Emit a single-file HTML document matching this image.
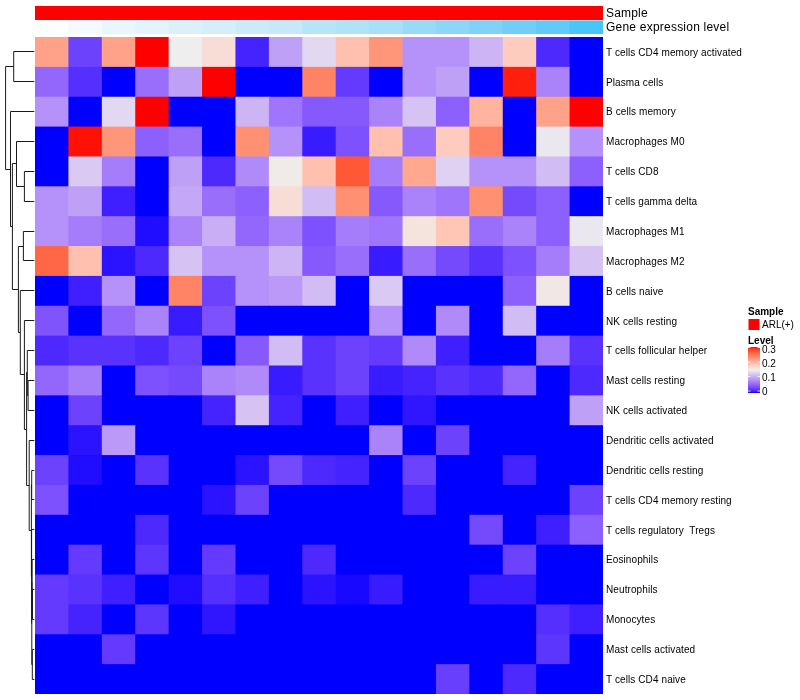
<!DOCTYPE html>
<html><head><meta charset="utf-8"><style>
html,body{margin:0;padding:0;background:#fff;width:800px;height:700px;overflow:hidden}
svg{position:absolute;left:0;top:0;will-change:transform}
text{font-family:"Liberation Sans",sans-serif;fill:#000}
</style></head><body>
<svg width="800" height="700" viewBox="0 0 800 700">
<defs><linearGradient id="lg" x1="0" y1="1" x2="0" y2="0">
<stop offset="0.0000" stop-color="#0000FF"/>
<stop offset="0.0333" stop-color="#3F1FFF"/>
<stop offset="0.0667" stop-color="#5932FE"/>
<stop offset="0.1000" stop-color="#6D42FD"/>
<stop offset="0.1333" stop-color="#7D51FD"/>
<stop offset="0.1667" stop-color="#8C60FC"/>
<stop offset="0.2000" stop-color="#996EFB"/>
<stop offset="0.2333" stop-color="#A57CFA"/>
<stop offset="0.2667" stop-color="#B08AF9"/>
<stop offset="0.3000" stop-color="#BA99F8"/>
<stop offset="0.3333" stop-color="#C4A7F7"/>
<stop offset="0.3667" stop-color="#CDB5F5"/>
<stop offset="0.4000" stop-color="#D6C3F4"/>
<stop offset="0.4333" stop-color="#DED1F2"/>
<stop offset="0.4667" stop-color="#E6E0F0"/>
<stop offset="0.5000" stop-color="#EEEEEE"/>
<stop offset="0.5333" stop-color="#F5E3DE"/>
<stop offset="0.5667" stop-color="#FAD7CE"/>
<stop offset="0.6000" stop-color="#FECCBE"/>
<stop offset="0.6333" stop-color="#FFC0AF"/>
<stop offset="0.6667" stop-color="#FFB49F"/>
<stop offset="0.7000" stop-color="#FFA890"/>
<stop offset="0.7333" stop-color="#FF9C81"/>
<stop offset="0.7667" stop-color="#FF9072"/>
<stop offset="0.8000" stop-color="#FF8364"/>
<stop offset="0.8333" stop-color="#FF7555"/>
<stop offset="0.8667" stop-color="#FF6746"/>
<stop offset="0.9000" stop-color="#FF5837"/>
<stop offset="0.9333" stop-color="#FF4628"/>
<stop offset="0.9667" stop-color="#FF2F17"/>
<stop offset="1.0000" stop-color="#FF0000"/>
</linearGradient></defs>
<rect x="35.00" y="6" width="568.00" height="14" fill="#FF0000"/>
<rect x="35.00" y="20.5" width="34.41" height="13.5" fill="#FEFEFE"/>
<rect x="68.41" y="20.5" width="34.41" height="13.5" fill="#F4FAFF"/>
<rect x="101.82" y="20.5" width="34.41" height="13.5" fill="#EAF6FE"/>
<rect x="135.24" y="20.5" width="34.41" height="13.5" fill="#E4F4FE"/>
<rect x="168.65" y="20.5" width="34.41" height="13.5" fill="#DCF0FC"/>
<rect x="202.06" y="20.5" width="34.41" height="13.5" fill="#D6EEFC"/>
<rect x="235.47" y="20.5" width="34.41" height="13.5" fill="#CCEAFA"/>
<rect x="268.88" y="20.5" width="34.41" height="13.5" fill="#C6E8FA"/>
<rect x="302.29" y="20.5" width="34.41" height="13.5" fill="#B8E4FA"/>
<rect x="335.71" y="20.5" width="34.41" height="13.5" fill="#B0E2F9"/>
<rect x="369.12" y="20.5" width="34.41" height="13.5" fill="#A8E0F9"/>
<rect x="402.53" y="20.5" width="34.41" height="13.5" fill="#98DAF8"/>
<rect x="435.94" y="20.5" width="34.41" height="13.5" fill="#8CD6F8"/>
<rect x="469.35" y="20.5" width="34.41" height="13.5" fill="#80D2F8"/>
<rect x="502.76" y="20.5" width="34.41" height="13.5" fill="#70CEF8"/>
<rect x="536.18" y="20.5" width="34.41" height="13.5" fill="#60CAF8"/>
<rect x="569.59" y="20.5" width="33.41" height="13.5" fill="#48C6F8"/>
<rect x="35.00" y="37.00" width="34.41" height="30.86" fill="#FFA289"/>
<rect x="68.41" y="37.00" width="34.41" height="30.86" fill="#6D42FD"/>
<rect x="101.82" y="37.00" width="34.41" height="30.86" fill="#FFA289"/>
<rect x="135.24" y="37.00" width="34.41" height="30.86" fill="#FF0000"/>
<rect x="168.65" y="37.00" width="34.41" height="30.86" fill="#EEEEEE"/>
<rect x="202.06" y="37.00" width="34.41" height="30.86" fill="#F7DDD6"/>
<rect x="235.47" y="37.00" width="34.41" height="30.86" fill="#4523FE"/>
<rect x="268.88" y="37.00" width="34.41" height="30.86" fill="#BFA0F7"/>
<rect x="302.29" y="37.00" width="34.41" height="30.86" fill="#E2D8F1"/>
<rect x="335.71" y="37.00" width="34.41" height="30.86" fill="#FFC0AF"/>
<rect x="369.12" y="37.00" width="34.41" height="30.86" fill="#FF967A"/>
<rect x="402.53" y="37.00" width="34.41" height="30.86" fill="#B592F9"/>
<rect x="435.94" y="37.00" width="34.41" height="30.86" fill="#B592F9"/>
<rect x="469.35" y="37.00" width="34.41" height="30.86" fill="#CDB5F5"/>
<rect x="502.76" y="37.00" width="34.41" height="30.86" fill="#FECCBE"/>
<rect x="536.18" y="37.00" width="34.41" height="30.86" fill="#4D29FE"/>
<rect x="569.59" y="37.00" width="33.41" height="30.86" fill="#0000FF"/>
<rect x="35.00" y="66.86" width="34.41" height="30.86" fill="#9367FC"/>
<rect x="68.41" y="66.86" width="34.41" height="30.86" fill="#552FFE"/>
<rect x="101.82" y="66.86" width="34.41" height="30.86" fill="#0000FF"/>
<rect x="135.24" y="66.86" width="34.41" height="30.86" fill="#996EFB"/>
<rect x="168.65" y="66.86" width="34.41" height="30.86" fill="#BFA0F7"/>
<rect x="202.06" y="66.86" width="34.41" height="30.86" fill="#FF0000"/>
<rect x="235.47" y="66.86" width="34.41" height="30.86" fill="#0000FF"/>
<rect x="268.88" y="66.86" width="34.41" height="30.86" fill="#0000FF"/>
<rect x="302.29" y="66.86" width="34.41" height="30.86" fill="#FF8364"/>
<rect x="335.71" y="66.86" width="34.41" height="30.86" fill="#643AFE"/>
<rect x="369.12" y="66.86" width="34.41" height="30.86" fill="#0000FF"/>
<rect x="402.53" y="66.86" width="34.41" height="30.86" fill="#B592F9"/>
<rect x="435.94" y="66.86" width="34.41" height="30.86" fill="#BFA0F7"/>
<rect x="469.35" y="66.86" width="34.41" height="30.86" fill="#0000FF"/>
<rect x="502.76" y="66.86" width="34.41" height="30.86" fill="#FF1F0D"/>
<rect x="536.18" y="66.86" width="34.41" height="30.86" fill="#AA83FA"/>
<rect x="569.59" y="66.86" width="33.41" height="30.86" fill="#0000FF"/>
<rect x="35.00" y="96.73" width="34.41" height="30.86" fill="#B592F9"/>
<rect x="68.41" y="96.73" width="34.41" height="30.86" fill="#0000FF"/>
<rect x="101.82" y="96.73" width="34.41" height="30.86" fill="#E2D8F1"/>
<rect x="135.24" y="96.73" width="34.41" height="30.86" fill="#FF0000"/>
<rect x="168.65" y="96.73" width="34.41" height="30.86" fill="#0000FF"/>
<rect x="202.06" y="96.73" width="34.41" height="30.86" fill="#0000FF"/>
<rect x="235.47" y="96.73" width="34.41" height="30.86" fill="#CDB5F5"/>
<rect x="268.88" y="96.73" width="34.41" height="30.86" fill="#9F75FB"/>
<rect x="302.29" y="96.73" width="34.41" height="30.86" fill="#8559FC"/>
<rect x="335.71" y="96.73" width="34.41" height="30.86" fill="#8559FC"/>
<rect x="369.12" y="96.73" width="34.41" height="30.86" fill="#AA83FA"/>
<rect x="402.53" y="96.73" width="34.41" height="30.86" fill="#D6C3F4"/>
<rect x="435.94" y="96.73" width="34.41" height="30.86" fill="#8C60FC"/>
<rect x="469.35" y="96.73" width="34.41" height="30.86" fill="#FFB49F"/>
<rect x="502.76" y="96.73" width="34.41" height="30.86" fill="#0000FF"/>
<rect x="536.18" y="96.73" width="34.41" height="30.86" fill="#FFA289"/>
<rect x="569.59" y="96.73" width="33.41" height="30.86" fill="#FF0000"/>
<rect x="35.00" y="126.59" width="34.41" height="30.86" fill="#0000FF"/>
<rect x="68.41" y="126.59" width="34.41" height="30.86" fill="#FF1105"/>
<rect x="101.82" y="126.59" width="34.41" height="30.86" fill="#FF967A"/>
<rect x="135.24" y="126.59" width="34.41" height="30.86" fill="#8C60FC"/>
<rect x="168.65" y="126.59" width="34.41" height="30.86" fill="#996EFB"/>
<rect x="202.06" y="126.59" width="34.41" height="30.86" fill="#0000FF"/>
<rect x="235.47" y="126.59" width="34.41" height="30.86" fill="#FF9072"/>
<rect x="268.88" y="126.59" width="34.41" height="30.86" fill="#B592F9"/>
<rect x="302.29" y="126.59" width="34.41" height="30.86" fill="#381BFF"/>
<rect x="335.71" y="126.59" width="34.41" height="30.86" fill="#7D51FD"/>
<rect x="369.12" y="126.59" width="34.41" height="30.86" fill="#FFC0AF"/>
<rect x="402.53" y="126.59" width="34.41" height="30.86" fill="#996EFB"/>
<rect x="435.94" y="126.59" width="34.41" height="30.86" fill="#FECCBE"/>
<rect x="469.35" y="126.59" width="34.41" height="30.86" fill="#FF8364"/>
<rect x="502.76" y="126.59" width="34.41" height="30.86" fill="#0000FF"/>
<rect x="536.18" y="126.59" width="34.41" height="30.86" fill="#EAE7EF"/>
<rect x="569.59" y="126.59" width="33.41" height="30.86" fill="#B592F9"/>
<rect x="35.00" y="156.45" width="34.41" height="30.86" fill="#0000FF"/>
<rect x="68.41" y="156.45" width="34.41" height="30.86" fill="#DACAF3"/>
<rect x="101.82" y="156.45" width="34.41" height="30.86" fill="#A57CFA"/>
<rect x="135.24" y="156.45" width="34.41" height="30.86" fill="#0000FF"/>
<rect x="168.65" y="156.45" width="34.41" height="30.86" fill="#BFA0F7"/>
<rect x="202.06" y="156.45" width="34.41" height="30.86" fill="#4D29FE"/>
<rect x="235.47" y="156.45" width="34.41" height="30.86" fill="#B08AF9"/>
<rect x="268.88" y="156.45" width="34.41" height="30.86" fill="#F0EBE9"/>
<rect x="302.29" y="156.45" width="34.41" height="30.86" fill="#FFC0AF"/>
<rect x="335.71" y="156.45" width="34.41" height="30.86" fill="#FF5837"/>
<rect x="369.12" y="156.45" width="34.41" height="30.86" fill="#A57CFA"/>
<rect x="402.53" y="156.45" width="34.41" height="30.86" fill="#FFA890"/>
<rect x="435.94" y="156.45" width="34.41" height="30.86" fill="#DED1F2"/>
<rect x="469.35" y="156.45" width="34.41" height="30.86" fill="#B592F9"/>
<rect x="502.76" y="156.45" width="34.41" height="30.86" fill="#B592F9"/>
<rect x="536.18" y="156.45" width="34.41" height="30.86" fill="#D2BCF4"/>
<rect x="569.59" y="156.45" width="33.41" height="30.86" fill="#8C60FC"/>
<rect x="35.00" y="186.32" width="34.41" height="30.86" fill="#B592F9"/>
<rect x="68.41" y="186.32" width="34.41" height="30.86" fill="#BFA0F7"/>
<rect x="101.82" y="186.32" width="34.41" height="30.86" fill="#3F1FFF"/>
<rect x="135.24" y="186.32" width="34.41" height="30.86" fill="#0000FF"/>
<rect x="168.65" y="186.32" width="34.41" height="30.86" fill="#C4A7F7"/>
<rect x="202.06" y="186.32" width="34.41" height="30.86" fill="#996EFB"/>
<rect x="235.47" y="186.32" width="34.41" height="30.86" fill="#8C60FC"/>
<rect x="268.88" y="186.32" width="34.41" height="30.86" fill="#F7DDD6"/>
<rect x="302.29" y="186.32" width="34.41" height="30.86" fill="#D2BCF4"/>
<rect x="335.71" y="186.32" width="34.41" height="30.86" fill="#FF9072"/>
<rect x="369.12" y="186.32" width="34.41" height="30.86" fill="#8559FC"/>
<rect x="402.53" y="186.32" width="34.41" height="30.86" fill="#AA83FA"/>
<rect x="435.94" y="186.32" width="34.41" height="30.86" fill="#9F75FB"/>
<rect x="469.35" y="186.32" width="34.41" height="30.86" fill="#FF9072"/>
<rect x="502.76" y="186.32" width="34.41" height="30.86" fill="#754AFD"/>
<rect x="536.18" y="186.32" width="34.41" height="30.86" fill="#8C60FC"/>
<rect x="569.59" y="186.32" width="33.41" height="30.86" fill="#0000FF"/>
<rect x="35.00" y="216.18" width="34.41" height="30.86" fill="#B592F9"/>
<rect x="68.41" y="216.18" width="34.41" height="30.86" fill="#A57CFA"/>
<rect x="101.82" y="216.18" width="34.41" height="30.86" fill="#996EFB"/>
<rect x="135.24" y="216.18" width="34.41" height="30.86" fill="#200CFF"/>
<rect x="168.65" y="216.18" width="34.41" height="30.86" fill="#AA83FA"/>
<rect x="202.06" y="216.18" width="34.41" height="30.86" fill="#C9AEF6"/>
<rect x="235.47" y="216.18" width="34.41" height="30.86" fill="#9367FC"/>
<rect x="268.88" y="216.18" width="34.41" height="30.86" fill="#AA83FA"/>
<rect x="302.29" y="216.18" width="34.41" height="30.86" fill="#7D51FD"/>
<rect x="335.71" y="216.18" width="34.41" height="30.86" fill="#A57CFA"/>
<rect x="369.12" y="216.18" width="34.41" height="30.86" fill="#9F75FB"/>
<rect x="402.53" y="216.18" width="34.41" height="30.86" fill="#F5E3DE"/>
<rect x="435.94" y="216.18" width="34.41" height="30.86" fill="#FFC6B6"/>
<rect x="469.35" y="216.18" width="34.41" height="30.86" fill="#996EFB"/>
<rect x="502.76" y="216.18" width="34.41" height="30.86" fill="#AA83FA"/>
<rect x="536.18" y="216.18" width="34.41" height="30.86" fill="#8C60FC"/>
<rect x="569.59" y="216.18" width="33.41" height="30.86" fill="#EAE7EF"/>
<rect x="35.00" y="246.05" width="34.41" height="30.86" fill="#FF6746"/>
<rect x="68.41" y="246.05" width="34.41" height="30.86" fill="#FFC0AF"/>
<rect x="101.82" y="246.05" width="34.41" height="30.86" fill="#2B13FF"/>
<rect x="135.24" y="246.05" width="34.41" height="30.86" fill="#4D29FE"/>
<rect x="168.65" y="246.05" width="34.41" height="30.86" fill="#D6C3F4"/>
<rect x="202.06" y="246.05" width="34.41" height="30.86" fill="#B592F9"/>
<rect x="235.47" y="246.05" width="34.41" height="30.86" fill="#B592F9"/>
<rect x="268.88" y="246.05" width="34.41" height="30.86" fill="#CDB5F5"/>
<rect x="302.29" y="246.05" width="34.41" height="30.86" fill="#8559FC"/>
<rect x="335.71" y="246.05" width="34.41" height="30.86" fill="#996EFB"/>
<rect x="369.12" y="246.05" width="34.41" height="30.86" fill="#381BFF"/>
<rect x="402.53" y="246.05" width="34.41" height="30.86" fill="#996EFB"/>
<rect x="435.94" y="246.05" width="34.41" height="30.86" fill="#754AFD"/>
<rect x="469.35" y="246.05" width="34.41" height="30.86" fill="#5932FE"/>
<rect x="502.76" y="246.05" width="34.41" height="30.86" fill="#7D51FD"/>
<rect x="536.18" y="246.05" width="34.41" height="30.86" fill="#A57CFA"/>
<rect x="569.59" y="246.05" width="33.41" height="30.86" fill="#D6C3F4"/>
<rect x="35.00" y="275.91" width="34.41" height="30.86" fill="#0000FF"/>
<rect x="68.41" y="275.91" width="34.41" height="30.86" fill="#3F1FFF"/>
<rect x="101.82" y="275.91" width="34.41" height="30.86" fill="#B592F9"/>
<rect x="135.24" y="275.91" width="34.41" height="30.86" fill="#0000FF"/>
<rect x="168.65" y="275.91" width="34.41" height="30.86" fill="#FF8364"/>
<rect x="202.06" y="275.91" width="34.41" height="30.86" fill="#6D42FD"/>
<rect x="235.47" y="275.91" width="34.41" height="30.86" fill="#B592F9"/>
<rect x="268.88" y="275.91" width="34.41" height="30.86" fill="#BA99F8"/>
<rect x="302.29" y="275.91" width="34.41" height="30.86" fill="#D2BCF4"/>
<rect x="335.71" y="275.91" width="34.41" height="30.86" fill="#0000FF"/>
<rect x="369.12" y="275.91" width="34.41" height="30.86" fill="#DACAF3"/>
<rect x="402.53" y="275.91" width="34.41" height="30.86" fill="#0000FF"/>
<rect x="435.94" y="275.91" width="34.41" height="30.86" fill="#0000FF"/>
<rect x="469.35" y="275.91" width="34.41" height="30.86" fill="#0000FF"/>
<rect x="502.76" y="275.91" width="34.41" height="30.86" fill="#8C60FC"/>
<rect x="536.18" y="275.91" width="34.41" height="30.86" fill="#F1E8E6"/>
<rect x="569.59" y="275.91" width="33.41" height="30.86" fill="#0000FF"/>
<rect x="35.00" y="305.77" width="34.41" height="30.86" fill="#8054FD"/>
<rect x="68.41" y="305.77" width="34.41" height="30.86" fill="#0000FF"/>
<rect x="101.82" y="305.77" width="34.41" height="30.86" fill="#9367FC"/>
<rect x="135.24" y="305.77" width="34.41" height="30.86" fill="#AA83FA"/>
<rect x="168.65" y="305.77" width="34.41" height="30.86" fill="#381BFF"/>
<rect x="202.06" y="305.77" width="34.41" height="30.86" fill="#7D51FD"/>
<rect x="235.47" y="305.77" width="34.41" height="30.86" fill="#0000FF"/>
<rect x="268.88" y="305.77" width="34.41" height="30.86" fill="#0000FF"/>
<rect x="302.29" y="305.77" width="34.41" height="30.86" fill="#0000FF"/>
<rect x="335.71" y="305.77" width="34.41" height="30.86" fill="#0000FF"/>
<rect x="369.12" y="305.77" width="34.41" height="30.86" fill="#B592F9"/>
<rect x="402.53" y="305.77" width="34.41" height="30.86" fill="#0000FF"/>
<rect x="435.94" y="305.77" width="34.41" height="30.86" fill="#B08AF9"/>
<rect x="469.35" y="305.77" width="34.41" height="30.86" fill="#0000FF"/>
<rect x="502.76" y="305.77" width="34.41" height="30.86" fill="#D2BCF4"/>
<rect x="536.18" y="305.77" width="34.41" height="30.86" fill="#0000FF"/>
<rect x="569.59" y="305.77" width="33.41" height="30.86" fill="#0000FF"/>
<rect x="35.00" y="335.64" width="34.41" height="30.86" fill="#4D29FE"/>
<rect x="68.41" y="335.64" width="34.41" height="30.86" fill="#5932FE"/>
<rect x="101.82" y="335.64" width="34.41" height="30.86" fill="#5932FE"/>
<rect x="135.24" y="335.64" width="34.41" height="30.86" fill="#4D29FE"/>
<rect x="168.65" y="335.64" width="34.41" height="30.86" fill="#6D42FD"/>
<rect x="202.06" y="335.64" width="34.41" height="30.86" fill="#0000FF"/>
<rect x="235.47" y="335.64" width="34.41" height="30.86" fill="#8559FC"/>
<rect x="268.88" y="335.64" width="34.41" height="30.86" fill="#D2BCF4"/>
<rect x="302.29" y="335.64" width="34.41" height="30.86" fill="#5932FE"/>
<rect x="335.71" y="335.64" width="34.41" height="30.86" fill="#6D42FD"/>
<rect x="369.12" y="335.64" width="34.41" height="30.86" fill="#643AFE"/>
<rect x="402.53" y="335.64" width="34.41" height="30.86" fill="#B08AF9"/>
<rect x="435.94" y="335.64" width="34.41" height="30.86" fill="#3F1FFF"/>
<rect x="469.35" y="335.64" width="34.41" height="30.86" fill="#0000FF"/>
<rect x="502.76" y="335.64" width="34.41" height="30.86" fill="#0000FF"/>
<rect x="536.18" y="335.64" width="34.41" height="30.86" fill="#A57CFA"/>
<rect x="569.59" y="335.64" width="33.41" height="30.86" fill="#5932FE"/>
<rect x="35.00" y="365.50" width="34.41" height="30.86" fill="#9367FC"/>
<rect x="68.41" y="365.50" width="34.41" height="30.86" fill="#A57CFA"/>
<rect x="101.82" y="365.50" width="34.41" height="30.86" fill="#0000FF"/>
<rect x="135.24" y="365.50" width="34.41" height="30.86" fill="#7D51FD"/>
<rect x="168.65" y="365.50" width="34.41" height="30.86" fill="#754AFD"/>
<rect x="202.06" y="365.50" width="34.41" height="30.86" fill="#AA83FA"/>
<rect x="235.47" y="365.50" width="34.41" height="30.86" fill="#B08AF9"/>
<rect x="268.88" y="365.50" width="34.41" height="30.86" fill="#381BFF"/>
<rect x="302.29" y="365.50" width="34.41" height="30.86" fill="#5932FE"/>
<rect x="335.71" y="365.50" width="34.41" height="30.86" fill="#6D42FD"/>
<rect x="369.12" y="365.50" width="34.41" height="30.86" fill="#381BFF"/>
<rect x="402.53" y="365.50" width="34.41" height="30.86" fill="#4523FE"/>
<rect x="435.94" y="365.50" width="34.41" height="30.86" fill="#5932FE"/>
<rect x="469.35" y="365.50" width="34.41" height="30.86" fill="#4D29FE"/>
<rect x="502.76" y="365.50" width="34.41" height="30.86" fill="#9367FC"/>
<rect x="536.18" y="365.50" width="34.41" height="30.86" fill="#0000FF"/>
<rect x="569.59" y="365.50" width="33.41" height="30.86" fill="#4D29FE"/>
<rect x="35.00" y="395.36" width="34.41" height="30.86" fill="#0000FF"/>
<rect x="68.41" y="395.36" width="34.41" height="30.86" fill="#6D42FD"/>
<rect x="101.82" y="395.36" width="34.41" height="30.86" fill="#0000FF"/>
<rect x="135.24" y="395.36" width="34.41" height="30.86" fill="#0000FF"/>
<rect x="168.65" y="395.36" width="34.41" height="30.86" fill="#0000FF"/>
<rect x="202.06" y="395.36" width="34.41" height="30.86" fill="#4523FE"/>
<rect x="235.47" y="395.36" width="34.41" height="30.86" fill="#D6C3F4"/>
<rect x="268.88" y="395.36" width="34.41" height="30.86" fill="#4523FE"/>
<rect x="302.29" y="395.36" width="34.41" height="30.86" fill="#0000FF"/>
<rect x="335.71" y="395.36" width="34.41" height="30.86" fill="#3F1FFF"/>
<rect x="369.12" y="395.36" width="34.41" height="30.86" fill="#0000FF"/>
<rect x="402.53" y="395.36" width="34.41" height="30.86" fill="#3016FF"/>
<rect x="435.94" y="395.36" width="34.41" height="30.86" fill="#0000FF"/>
<rect x="469.35" y="395.36" width="34.41" height="30.86" fill="#0000FF"/>
<rect x="502.76" y="395.36" width="34.41" height="30.86" fill="#0000FF"/>
<rect x="536.18" y="395.36" width="34.41" height="30.86" fill="#0000FF"/>
<rect x="569.59" y="395.36" width="33.41" height="30.86" fill="#BFA0F7"/>
<rect x="35.00" y="425.23" width="34.41" height="30.86" fill="#0000FF"/>
<rect x="68.41" y="425.23" width="34.41" height="30.86" fill="#2B13FF"/>
<rect x="101.82" y="425.23" width="34.41" height="30.86" fill="#BA99F8"/>
<rect x="135.24" y="425.23" width="34.41" height="30.86" fill="#0000FF"/>
<rect x="168.65" y="425.23" width="34.41" height="30.86" fill="#0000FF"/>
<rect x="202.06" y="425.23" width="34.41" height="30.86" fill="#0000FF"/>
<rect x="235.47" y="425.23" width="34.41" height="30.86" fill="#0000FF"/>
<rect x="268.88" y="425.23" width="34.41" height="30.86" fill="#0000FF"/>
<rect x="302.29" y="425.23" width="34.41" height="30.86" fill="#0000FF"/>
<rect x="335.71" y="425.23" width="34.41" height="30.86" fill="#0000FF"/>
<rect x="369.12" y="425.23" width="34.41" height="30.86" fill="#AA83FA"/>
<rect x="402.53" y="425.23" width="34.41" height="30.86" fill="#0000FF"/>
<rect x="435.94" y="425.23" width="34.41" height="30.86" fill="#6D42FD"/>
<rect x="469.35" y="425.23" width="34.41" height="30.86" fill="#0000FF"/>
<rect x="502.76" y="425.23" width="34.41" height="30.86" fill="#0000FF"/>
<rect x="536.18" y="425.23" width="34.41" height="30.86" fill="#0000FF"/>
<rect x="569.59" y="425.23" width="33.41" height="30.86" fill="#0000FF"/>
<rect x="35.00" y="455.09" width="34.41" height="30.86" fill="#6D42FD"/>
<rect x="68.41" y="455.09" width="34.41" height="30.86" fill="#200CFF"/>
<rect x="101.82" y="455.09" width="34.41" height="30.86" fill="#0000FF"/>
<rect x="135.24" y="455.09" width="34.41" height="30.86" fill="#5932FE"/>
<rect x="168.65" y="455.09" width="34.41" height="30.86" fill="#0000FF"/>
<rect x="202.06" y="455.09" width="34.41" height="30.86" fill="#0000FF"/>
<rect x="235.47" y="455.09" width="34.41" height="30.86" fill="#2B13FF"/>
<rect x="268.88" y="455.09" width="34.41" height="30.86" fill="#754AFD"/>
<rect x="302.29" y="455.09" width="34.41" height="30.86" fill="#4D29FE"/>
<rect x="335.71" y="455.09" width="34.41" height="30.86" fill="#4523FE"/>
<rect x="369.12" y="455.09" width="34.41" height="30.86" fill="#0000FF"/>
<rect x="402.53" y="455.09" width="34.41" height="30.86" fill="#6D42FD"/>
<rect x="435.94" y="455.09" width="34.41" height="30.86" fill="#0000FF"/>
<rect x="469.35" y="455.09" width="34.41" height="30.86" fill="#0000FF"/>
<rect x="502.76" y="455.09" width="34.41" height="30.86" fill="#4523FE"/>
<rect x="536.18" y="455.09" width="34.41" height="30.86" fill="#0000FF"/>
<rect x="569.59" y="455.09" width="33.41" height="30.86" fill="#0000FF"/>
<rect x="35.00" y="484.95" width="34.41" height="30.86" fill="#7D51FD"/>
<rect x="68.41" y="484.95" width="34.41" height="30.86" fill="#0000FF"/>
<rect x="101.82" y="484.95" width="34.41" height="30.86" fill="#0000FF"/>
<rect x="135.24" y="484.95" width="34.41" height="30.86" fill="#0000FF"/>
<rect x="168.65" y="484.95" width="34.41" height="30.86" fill="#0000FF"/>
<rect x="202.06" y="484.95" width="34.41" height="30.86" fill="#2B13FF"/>
<rect x="235.47" y="484.95" width="34.41" height="30.86" fill="#6D42FD"/>
<rect x="268.88" y="484.95" width="34.41" height="30.86" fill="#0000FF"/>
<rect x="302.29" y="484.95" width="34.41" height="30.86" fill="#0000FF"/>
<rect x="335.71" y="484.95" width="34.41" height="30.86" fill="#0000FF"/>
<rect x="369.12" y="484.95" width="34.41" height="30.86" fill="#0000FF"/>
<rect x="402.53" y="484.95" width="34.41" height="30.86" fill="#4D29FE"/>
<rect x="435.94" y="484.95" width="34.41" height="30.86" fill="#0000FF"/>
<rect x="469.35" y="484.95" width="34.41" height="30.86" fill="#0000FF"/>
<rect x="502.76" y="484.95" width="34.41" height="30.86" fill="#0000FF"/>
<rect x="536.18" y="484.95" width="34.41" height="30.86" fill="#0000FF"/>
<rect x="569.59" y="484.95" width="33.41" height="30.86" fill="#6D42FD"/>
<rect x="35.00" y="514.82" width="34.41" height="30.86" fill="#0000FF"/>
<rect x="68.41" y="514.82" width="34.41" height="30.86" fill="#0000FF"/>
<rect x="101.82" y="514.82" width="34.41" height="30.86" fill="#0000FF"/>
<rect x="135.24" y="514.82" width="34.41" height="30.86" fill="#4D29FE"/>
<rect x="168.65" y="514.82" width="34.41" height="30.86" fill="#0000FF"/>
<rect x="202.06" y="514.82" width="34.41" height="30.86" fill="#0000FF"/>
<rect x="235.47" y="514.82" width="34.41" height="30.86" fill="#0000FF"/>
<rect x="268.88" y="514.82" width="34.41" height="30.86" fill="#0000FF"/>
<rect x="302.29" y="514.82" width="34.41" height="30.86" fill="#0000FF"/>
<rect x="335.71" y="514.82" width="34.41" height="30.86" fill="#0000FF"/>
<rect x="369.12" y="514.82" width="34.41" height="30.86" fill="#0000FF"/>
<rect x="402.53" y="514.82" width="34.41" height="30.86" fill="#0000FF"/>
<rect x="435.94" y="514.82" width="34.41" height="30.86" fill="#0000FF"/>
<rect x="469.35" y="514.82" width="34.41" height="30.86" fill="#754AFD"/>
<rect x="502.76" y="514.82" width="34.41" height="30.86" fill="#0000FF"/>
<rect x="536.18" y="514.82" width="34.41" height="30.86" fill="#3F1FFF"/>
<rect x="569.59" y="514.82" width="33.41" height="30.86" fill="#8C60FC"/>
<rect x="35.00" y="544.68" width="34.41" height="30.86" fill="#0000FF"/>
<rect x="68.41" y="544.68" width="34.41" height="30.86" fill="#643AFE"/>
<rect x="101.82" y="544.68" width="34.41" height="30.86" fill="#0000FF"/>
<rect x="135.24" y="544.68" width="34.41" height="30.86" fill="#5D36FE"/>
<rect x="168.65" y="544.68" width="34.41" height="30.86" fill="#0000FF"/>
<rect x="202.06" y="544.68" width="34.41" height="30.86" fill="#643AFE"/>
<rect x="235.47" y="544.68" width="34.41" height="30.86" fill="#0000FF"/>
<rect x="268.88" y="544.68" width="34.41" height="30.86" fill="#0000FF"/>
<rect x="302.29" y="544.68" width="34.41" height="30.86" fill="#4D29FE"/>
<rect x="335.71" y="544.68" width="34.41" height="30.86" fill="#0000FF"/>
<rect x="369.12" y="544.68" width="34.41" height="30.86" fill="#0000FF"/>
<rect x="402.53" y="544.68" width="34.41" height="30.86" fill="#0000FF"/>
<rect x="435.94" y="544.68" width="34.41" height="30.86" fill="#0000FF"/>
<rect x="469.35" y="544.68" width="34.41" height="30.86" fill="#0000FF"/>
<rect x="502.76" y="544.68" width="34.41" height="30.86" fill="#6D42FD"/>
<rect x="536.18" y="544.68" width="34.41" height="30.86" fill="#0000FF"/>
<rect x="569.59" y="544.68" width="33.41" height="30.86" fill="#0000FF"/>
<rect x="35.00" y="574.55" width="34.41" height="30.86" fill="#643AFE"/>
<rect x="68.41" y="574.55" width="34.41" height="30.86" fill="#5932FE"/>
<rect x="101.82" y="574.55" width="34.41" height="30.86" fill="#3F1FFF"/>
<rect x="135.24" y="574.55" width="34.41" height="30.86" fill="#0000FF"/>
<rect x="168.65" y="574.55" width="34.41" height="30.86" fill="#200CFF"/>
<rect x="202.06" y="574.55" width="34.41" height="30.86" fill="#552FFE"/>
<rect x="235.47" y="574.55" width="34.41" height="30.86" fill="#3F1FFF"/>
<rect x="268.88" y="574.55" width="34.41" height="30.86" fill="#0000FF"/>
<rect x="302.29" y="574.55" width="34.41" height="30.86" fill="#2B13FF"/>
<rect x="335.71" y="574.55" width="34.41" height="30.86" fill="#1908FF"/>
<rect x="369.12" y="574.55" width="34.41" height="30.86" fill="#381BFF"/>
<rect x="402.53" y="574.55" width="34.41" height="30.86" fill="#0000FF"/>
<rect x="435.94" y="574.55" width="34.41" height="30.86" fill="#0000FF"/>
<rect x="469.35" y="574.55" width="34.41" height="30.86" fill="#381BFF"/>
<rect x="502.76" y="574.55" width="34.41" height="30.86" fill="#381BFF"/>
<rect x="536.18" y="574.55" width="34.41" height="30.86" fill="#0000FF"/>
<rect x="569.59" y="574.55" width="33.41" height="30.86" fill="#0000FF"/>
<rect x="35.00" y="604.41" width="34.41" height="30.86" fill="#643AFE"/>
<rect x="68.41" y="604.41" width="34.41" height="30.86" fill="#4523FE"/>
<rect x="101.82" y="604.41" width="34.41" height="30.86" fill="#0000FF"/>
<rect x="135.24" y="604.41" width="34.41" height="30.86" fill="#5D36FE"/>
<rect x="168.65" y="604.41" width="34.41" height="30.86" fill="#0000FF"/>
<rect x="202.06" y="604.41" width="34.41" height="30.86" fill="#3016FF"/>
<rect x="235.47" y="604.41" width="34.41" height="30.86" fill="#0000FF"/>
<rect x="268.88" y="604.41" width="34.41" height="30.86" fill="#0000FF"/>
<rect x="302.29" y="604.41" width="34.41" height="30.86" fill="#0000FF"/>
<rect x="335.71" y="604.41" width="34.41" height="30.86" fill="#0000FF"/>
<rect x="369.12" y="604.41" width="34.41" height="30.86" fill="#0000FF"/>
<rect x="402.53" y="604.41" width="34.41" height="30.86" fill="#0000FF"/>
<rect x="435.94" y="604.41" width="34.41" height="30.86" fill="#0000FF"/>
<rect x="469.35" y="604.41" width="34.41" height="30.86" fill="#0000FF"/>
<rect x="502.76" y="604.41" width="34.41" height="30.86" fill="#0000FF"/>
<rect x="536.18" y="604.41" width="34.41" height="30.86" fill="#552FFE"/>
<rect x="569.59" y="604.41" width="33.41" height="30.86" fill="#3F1FFF"/>
<rect x="35.00" y="634.27" width="34.41" height="30.86" fill="#0000FF"/>
<rect x="68.41" y="634.27" width="34.41" height="30.86" fill="#0000FF"/>
<rect x="101.82" y="634.27" width="34.41" height="30.86" fill="#643AFE"/>
<rect x="135.24" y="634.27" width="34.41" height="30.86" fill="#0000FF"/>
<rect x="168.65" y="634.27" width="34.41" height="30.86" fill="#0000FF"/>
<rect x="202.06" y="634.27" width="34.41" height="30.86" fill="#0000FF"/>
<rect x="235.47" y="634.27" width="34.41" height="30.86" fill="#0000FF"/>
<rect x="268.88" y="634.27" width="34.41" height="30.86" fill="#0000FF"/>
<rect x="302.29" y="634.27" width="34.41" height="30.86" fill="#0000FF"/>
<rect x="335.71" y="634.27" width="34.41" height="30.86" fill="#0000FF"/>
<rect x="369.12" y="634.27" width="34.41" height="30.86" fill="#0000FF"/>
<rect x="402.53" y="634.27" width="34.41" height="30.86" fill="#0000FF"/>
<rect x="435.94" y="634.27" width="34.41" height="30.86" fill="#0000FF"/>
<rect x="469.35" y="634.27" width="34.41" height="30.86" fill="#0000FF"/>
<rect x="502.76" y="634.27" width="34.41" height="30.86" fill="#0000FF"/>
<rect x="536.18" y="634.27" width="34.41" height="30.86" fill="#5D36FE"/>
<rect x="569.59" y="634.27" width="33.41" height="30.86" fill="#0000FF"/>
<rect x="35.00" y="664.14" width="34.41" height="29.86" fill="#0000FF"/>
<rect x="68.41" y="664.14" width="34.41" height="29.86" fill="#0000FF"/>
<rect x="101.82" y="664.14" width="34.41" height="29.86" fill="#0000FF"/>
<rect x="135.24" y="664.14" width="34.41" height="29.86" fill="#0000FF"/>
<rect x="168.65" y="664.14" width="34.41" height="29.86" fill="#0000FF"/>
<rect x="202.06" y="664.14" width="34.41" height="29.86" fill="#0000FF"/>
<rect x="235.47" y="664.14" width="34.41" height="29.86" fill="#0000FF"/>
<rect x="268.88" y="664.14" width="34.41" height="29.86" fill="#0000FF"/>
<rect x="302.29" y="664.14" width="34.41" height="29.86" fill="#0000FF"/>
<rect x="335.71" y="664.14" width="34.41" height="29.86" fill="#0000FF"/>
<rect x="369.12" y="664.14" width="34.41" height="29.86" fill="#0000FF"/>
<rect x="402.53" y="664.14" width="34.41" height="29.86" fill="#0000FF"/>
<rect x="435.94" y="664.14" width="34.41" height="29.86" fill="#693FFE"/>
<rect x="469.35" y="664.14" width="34.41" height="29.86" fill="#0000FF"/>
<rect x="502.76" y="664.14" width="34.41" height="29.86" fill="#4D29FE"/>
<rect x="536.18" y="664.14" width="34.41" height="29.86" fill="#0000FF"/>
<rect x="569.59" y="664.14" width="33.41" height="29.86" fill="#0000FF"/>
<text x="606" y="16.8" style="font-size:12px;letter-spacing:0.18px">Sample</text>
<text x="606" y="30.8" style="font-size:12px;letter-spacing:0.22px">Gene expression level</text>
<text x="606" y="55.73" style="font-size:10px;letter-spacing:0.1px">T cells CD4 memory activated</text>
<text x="606" y="85.60" style="font-size:10px;letter-spacing:0.1px">Plasma cells</text>
<text x="606" y="115.46" style="font-size:10px;letter-spacing:0.1px">B cells memory</text>
<text x="606" y="145.32" style="font-size:10px;letter-spacing:0.1px">Macrophages M0</text>
<text x="606" y="175.19" style="font-size:10px;letter-spacing:0.1px">T cells CD8</text>
<text x="606" y="205.05" style="font-size:10px;letter-spacing:0.1px">T cells gamma delta</text>
<text x="606" y="234.91" style="font-size:10px;letter-spacing:0.1px">Macrophages M1</text>
<text x="606" y="264.78" style="font-size:10px;letter-spacing:0.1px">Macrophages M2</text>
<text x="606" y="294.64" style="font-size:10px;letter-spacing:0.1px">B cells naive</text>
<text x="606" y="324.50" style="font-size:10px;letter-spacing:0.1px">NK cells resting</text>
<text x="606" y="354.37" style="font-size:10px;letter-spacing:0.1px">T cells follicular helper</text>
<text x="606" y="384.23" style="font-size:10px;letter-spacing:0.1px">Mast cells resting</text>
<text x="606" y="414.10" style="font-size:10px;letter-spacing:0.1px">NK cells activated</text>
<text x="606" y="443.96" style="font-size:10px;letter-spacing:0.1px">Dendritic cells activated</text>
<text x="606" y="473.82" style="font-size:10px;letter-spacing:0.1px">Dendritic cells resting</text>
<text x="606" y="503.69" style="font-size:10px;letter-spacing:0.1px">T cells CD4 memory resting</text>
<text x="606" y="533.55" style="font-size:10px;letter-spacing:0.1px">T cells regulatory&#160; Tregs</text>
<text x="606" y="563.41" style="font-size:10px;letter-spacing:0.1px">Eosinophils</text>
<text x="606" y="593.28" style="font-size:10px;letter-spacing:0.1px">Neutrophils</text>
<text x="606" y="623.14" style="font-size:10px;letter-spacing:0.1px">Monocytes</text>
<text x="606" y="653.00" style="font-size:10px;letter-spacing:0.1px">Mast cells activated</text>
<text x="606" y="682.87" style="font-size:10px;letter-spacing:0.1px">T cells CD4 naive</text>
<path d="M5.60 66.50V169.50M5.60 66.50H13.70M5.60 169.50H10.50M13.70 51.50V81.50M13.70 51.50H34.30M13.70 81.50H34.30M10.50 111.50V226.50M10.50 111.50H34.30M10.50 226.50H12.40M12.40 163.50V289.50M12.40 163.50H16.50M12.40 289.50H18.40M16.50 141.50V186.50M16.50 141.50H34.30M16.50 186.50H24.40M24.40 171.50V201.50M24.40 171.50H34.30M24.40 201.50H34.30M18.40 246.50V332.50M18.40 246.50H23.40M18.40 332.50H20.30M23.40 231.50V260.50M23.40 231.50H34.30M23.40 260.50H34.30M20.30 290.50V374.50M20.30 290.50H34.30M20.30 374.50H24.40M24.40 320.50V429.50M24.40 320.50H34.30M24.40 429.50H26.60M26.60 372.50V485.50M26.60 372.50H27.30M26.60 485.50H29.20M27.30 350.50V395.50M27.30 350.50H34.30M27.30 395.50H28.10M28.10 380.50V410.50M28.10 380.50H34.30M28.10 410.50H34.30M29.20 440.50V530.50M29.20 440.50H34.30M29.20 530.50H31.40M31.40 484.50V576.50M31.40 484.50H31.70M31.40 576.50H31.60M31.70 470.50V499.50M31.70 470.50H34.30M31.70 499.50H34.30M31.60 529.50V623.50M31.60 529.50H34.30M31.60 623.50H31.80M31.80 582.50V664.50M31.80 582.50H32.10M31.80 664.50H32.30M32.10 559.50V604.50M32.10 559.50H34.30M32.10 604.50H32.50M32.50 589.50V619.50M32.50 589.50H34.30M32.50 619.50H34.30M32.30 649.50V679.50M32.30 649.50H34.30M32.30 679.50H34.30" stroke="#1a1a1a" stroke-width="1" fill="none"/>
<text x="748" y="315" style="font-size:10px;font-weight:bold">Sample</text>
<rect x="748.5" y="319" width="11" height="11" fill="#FF0000"/>
<text x="762" y="327.6" style="font-size:10px">ARL(+)</text>
<text x="748" y="343.8" style="font-size:10px;font-weight:bold">Level</text>
<rect x="748" y="347" width="12" height="46" fill="url(#lg)"/>
<line x1="748" x2="750.5" y1="347.50" y2="347.50" stroke="#fff" stroke-width="0.8"/>
<line x1="757.5" x2="760" y1="347.50" y2="347.50" stroke="#fff" stroke-width="0.8"/>
<text x="762" y="352.50" style="font-size:10px">0.3</text>
<line x1="748" x2="750.5" y1="362.00" y2="362.00" stroke="#fff" stroke-width="0.8"/>
<line x1="757.5" x2="760" y1="362.00" y2="362.00" stroke="#fff" stroke-width="0.8"/>
<text x="762" y="366.80" style="font-size:10px">0.2</text>
<line x1="748" x2="750.5" y1="376.50" y2="376.50" stroke="#fff" stroke-width="0.8"/>
<line x1="757.5" x2="760" y1="376.50" y2="376.50" stroke="#fff" stroke-width="0.8"/>
<text x="762" y="381.00" style="font-size:10px">0.1</text>
<line x1="748" x2="750.5" y1="391.00" y2="391.00" stroke="#fff" stroke-width="0.8"/>
<line x1="757.5" x2="760" y1="391.00" y2="391.00" stroke="#fff" stroke-width="0.8"/>
<text x="762" y="394.60" style="font-size:10px">0</text>
</svg></body></html>
